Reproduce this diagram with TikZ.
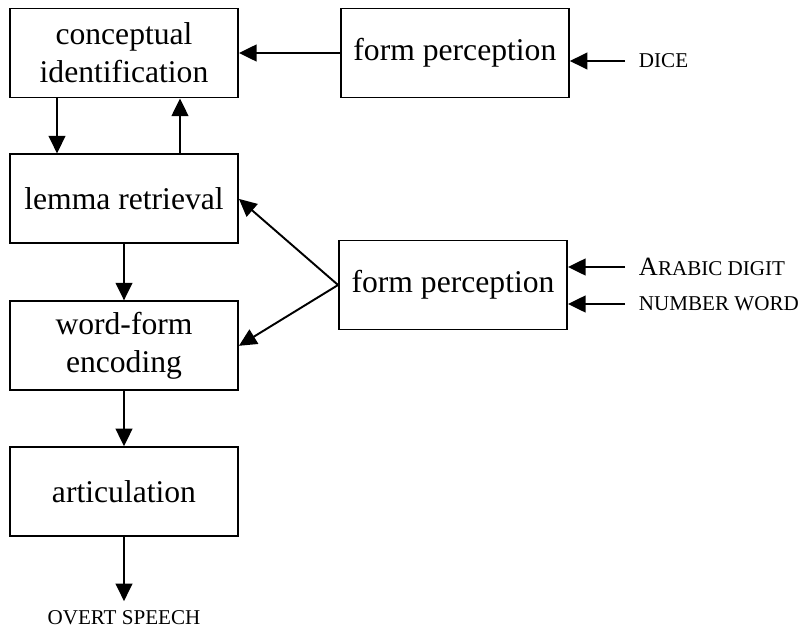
\documentclass[tikz,border=0pt]{standalone}
\usepackage{fontspec}
\setmainfont{Liberation Serif}
\usetikzlibrary{arrows.meta,positioning}
\tikzset{arrows={-{Triangle[length=10pt,width=9.5pt]}}}
\newcommand\smcap[1]{{\fontsize{12}{14}\selectfont #1}}

\begin{document}
\begin{tikzpicture}[x=0.02cm, y=-0.02cm, line width=1.1pt, node distance=1.1cm,
  box/.style={draw, minimum width=4.56cm, minimum height=1.78cm, align=center,
    font=\fontsize{18}{21.6}\selectfont},
  input/.style={anchor=west, inner xsep=7.4pt, inner ysep=0pt}]

  \useasboundingbox (0,0) rectangle (804,632);

  \node [box] (concept) at (124,53) {conceptual\\identification};
  \node [box] (lemma) [below = of concept] {lemma retrieval};
  \node [box] (wordform) [below = 1.12cm of lemma] {word-form\\encoding};
  \node [box] (artic) [below = of wordform] {articulation};
  \node [inner sep=0pt] (speech) [below = 1.44cm of artic] {\smcap{OVERT SPEECH}};

  \node [box] (formA) [right = 2.02cm of concept] {form perception};
  \node [box] (formB) at (453,285) {form perception};

  \node [input] (dice) at (625,61) {\smcap{DICE}};
  \node [input] (digit) at (625,267) {{\fontsize{15}{14}\selectfont A}\smcap{RABIC DIGIT}};
  \node [input] (word) at (625,304) {\smcap{NUMBER WORD}};

  \draw ([xshift=-1.34cm]concept.south) -- ([xshift=-1.34cm]lemma.north);
  \draw ([xshift=1.12cm]lemma.north) -- ([xshift=1.12cm]concept.south);
  \draw (lemma) -- (wordform);
  \draw (wordform) -- (artic);
  \draw [shorten >=0.16cm] (artic) -- (speech);

  \draw (formA.west) -- (formA.west -| concept.east);
  \draw (dice.west) -- (dice.west -| formA.east);
  \draw (digit.west) -- (digit.west -| formB.east);
  \draw (word.west) -- (word.west -| formB.east);

  \draw (formB.west) -- (lemma.east);
  \draw (formB.west) -- (wordform.east);
\end{tikzpicture}
\end{document}
